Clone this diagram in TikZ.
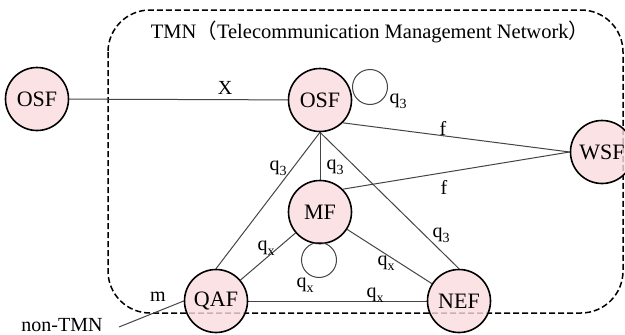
\documentclass[tikz,border=0pt]{standalone}
\usepackage{fontspec}
\setmainfont{Liberation Serif}
\newfontfamily\cjk{Noto Sans CJK SC}
\definecolor{nodepink}{HTML}{FADCDF}
\definecolor{linegray}{HTML}{444444}
\newcommand{\qsub}[1]{q\raisebox{-0.5ex}{\fontsize{14}{14}\selectfont #1}}
\pgfdeclarelayer{bg}
\pgfsetlayers{bg,main}
\begin{document}
\begin{tikzpicture}[x=1pt,y=-1pt,
  fn/.style={circle, draw=black, line width=1.6pt, fill=nodepink, fill opacity=0.8, text opacity=1, minimum size=63pt, inner sep=0pt, font=\fontsize{22}{22}\selectfont},
  link/.style={draw=linegray, line width=1pt},
  loopc/.style={circle, draw=linegray, line width=1pt, minimum size=35pt, inner sep=0pt},
  lbl/.style={font=\fontsize{20}{20}\selectfont, inner sep=0pt},
  border/.style={draw=black, line width=1.5pt, dash pattern=on 6pt off 3pt, rounded corners=42pt}]
\useasboundingbox (0,0) rectangle (625,335);
\clip (0,0) rectangle (625,335);
% nodes
\node[fn] (osfo) at (37,99) {OSF};
\node[fn] (osf) at (320,100) {OSF};
\node[fn] (wsf) at (602,152) {WSF};
\node[fn] (mf) at (320,212) {MF};
\node[fn] (qaf) at (216,301) {QAF};
\node[fn] (nef) at (459,301) {NEF};
\node[loopc] (loopa) at (370,87) {};
\node[loopc] (loopb) at (319,260) {};
\coordinate (ntm) at (119,327);
% background: border and links
\begin{pgfonlayer}{bg}
\draw[border] (108,10) rectangle (623,313);
\draw[link] (osfo) -- (osf);
\draw[link] (osf.south east) -- (wsf.west);
\draw[link] (mf.north east) -- (wsf.west);
\draw[link] (osf.south) -- (mf.north);
\draw[link] (osf.south) -- (qaf.north);
\draw[link] (osf.south) -- (nef.north);
\draw[link] (mf) -- (qaf);
\draw[link] (mf) -- (nef);
\draw[link] (qaf) -- (nef);
\draw[link] (ntm) -- (qaf.west);
\end{pgfonlayer}
% labels
\node[lbl, font=\fontsize{20.5}{20.5}\selectfont] (title) at (370,32) {TMN{\cjk （}Telecommunication Management Network{\cjk ）}};
\node[lbl] (lx) at (225,88) {X};
\node[lbl] (lq1) at (398,101) {\qsub{3}};
\node[lbl] (lf1) at (443,128) {f};
\node[lbl] (lf2) at (444,187) {f};
\node[lbl] (lq2) at (335,167) {\qsub{3}};
\node[lbl] (lq3) at (278,168) {\qsub{3}};
\node[lbl] (lq4) at (441,235) {\qsub{3}};
\node[lbl] (lq5) at (266,248) {\qsub{x}};
\node[lbl] (lq6) at (305,285) {\qsub{x}};
\node[lbl] (lq7) at (386,263) {\qsub{x}};
\node[lbl] (lq8) at (375,295) {\qsub{x}};
\node[lbl] (lm) at (158,297) {m};
\node[lbl] (lnon) at (62,325) {non-TMN};
\end{tikzpicture}
\end{document}
